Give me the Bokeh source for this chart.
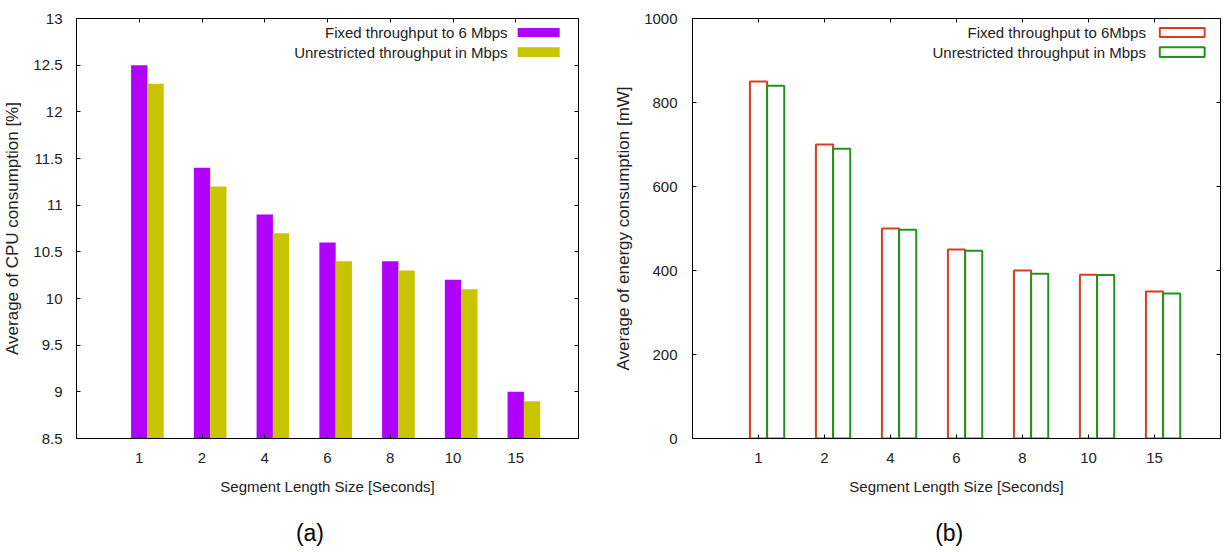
from bokeh.plotting import figure
from bokeh.layouts import row, column
from bokeh.models import (FixedTicker, LinearAxis, Label, Range1d,
                          ColumnDataSource, BoxAnnotation)
from bokeh.core.properties import value
from bokeh.embed import file_html
from bokeh.resources import INLINE

# ---------------- data ----------------
segments = ["1", "2", "4", "6", "8", "10", "15"]
cpu_fixed = [12.5, 11.4, 10.9, 10.6, 10.4, 10.2, 9.0]
cpu_unrestricted = [12.3, 11.2, 10.7, 10.4, 10.3, 10.1, 8.9]
energy_fixed = [850, 700, 500, 450, 400, 390, 350]
energy_unrestricted = [840, 690, 497, 447, 392, 389, 345]
cpu_ticks = [8.5, 9, 9.5, 10, 10.5, 11, 11.5, 12, 12.5, 13]
energy_ticks = [0, 200, 400, 600, 800, 1000]
labels_a = ["Fixed throughput to 6 Mbps", "Unrestricted throughput in Mbps"]
labels_b = ["Fixed throughput to 6Mbps", "Unrestricted throughput in Mbps"]
captions = ["(a)", "(b)"]

FONT = "Liberation Sans"
TXT = "#222222"
BAR_W = 0.26
MAIN_H = 510
CAP_H = 42


def panel(frame_w, mb_left, mb_right, ylabel, yticks, v1, v2, colors, hollow,
          labels, sw_x, ylabel_standoff, ytick_standoff):
    idx = list(range(len(segments)))
    src = ColumnDataSource(dict(
        x1=idx, x2=[i + BAR_W for i in idx], v1=v1, v2=v2))
    ymin, ymax = yticks[0], yticks[-1]
    xmin, xmax = -1, len(segments)
    p = figure(width=mb_left + frame_w + mb_right, height=MAIN_H,
               output_backend="svg", toolbar_location=None,
               x_range=Range1d(xmin, xmax),
               y_range=Range1d(ymin, ymax),
               min_border_left=mb_left, min_border_right=mb_right,
               min_border_top=18, min_border_bottom=72)
    p.xgrid.visible = False
    p.ygrid.visible = False
    p.outline_line_color = None
    p.background_fill_color = "white"
    p.border_fill_color = "white"

    if hollow:
        p.vbar(x="x1", top="v1", bottom=ymin, width=BAR_W, source=src,
               fill_color=None, line_color=colors[0], line_width=2)
        p.vbar(x="x2", top="v2", bottom=ymin, width=BAR_W, source=src,
               fill_color=None, line_color=colors[1], line_width=2)
    else:
        p.vbar(x="x1", top="v1", bottom=ymin, width=BAR_W, source=src,
               fill_color=colors[0], line_color=None)
        p.vbar(x="x2", top="v2", bottom=ymin, width=BAR_W, source=src,
               fill_color=colors[1], line_color=None)

    xt = FixedTicker(ticks=idx)
    xover = {i: s for i, s in zip(idx, segments)}
    yover = {t: f"{t:g}" for t in yticks}

    def style(ax):
        ax.axis_line_color = "black"
        ax.axis_line_width = 1
        ax.major_tick_line_color = "black"
        ax.major_tick_in = 4
        ax.major_tick_out = 0
        ax.minor_tick_line_color = None
        ax.major_label_text_font = FONT
        ax.major_label_text_font_size = "15px"
        ax.major_label_text_color = TXT
        ax.axis_label_text_font = FONT
        ax.axis_label_text_font_size = "15px"
        ax.axis_label_text_font_style = "normal"
        ax.axis_label_text_color = TXT

    xa = p.xaxis[0]
    xa.ticker = xt
    xa.major_label_overrides = xover
    xa.axis_label = "Segment Length Size [Seconds]"
    style(xa)
    xa.major_label_standoff = 14
    xa.axis_label_standoff = 12

    ya = p.yaxis[0]
    ya.ticker = FixedTicker(ticks=yticks)
    ya.major_label_overrides = yover
    ya.axis_label = ylabel
    style(ya)
    ya.axis_label_text_font_size = "17px"
    ya.major_label_standoff = ytick_standoff
    ya.axis_label_standoff = ylabel_standoff

    top = LinearAxis(ticker=FixedTicker(ticks=idx))
    style(top)
    top.major_label_text_font_size = "0px"
    top.major_label_standoff = 0
    p.add_layout(top, "above")
    right = LinearAxis(ticker=FixedTicker(ticks=yticks))
    style(right)
    right.major_label_text_font_size = "0px"
    right.major_label_standoff = 0
    p.add_layout(right, "right")

    # legend: text right-aligned, swatch to its right (gnuplot style)
    span = ymax - ymin
    rows = [(0.0224, 0.0439), (0.0685, 0.0916)]
    for k, (lab, (f_top, f_bot)) in enumerate(zip(labels, rows)):
        p.add_layout(Label(x=5.87, y=ymax - 0.5 * (f_top + f_bot) * span,
                           text=lab, text_align="right",
                           text_baseline="middle", text_font=FONT,
                           text_font_size="15px", text_color=TXT))
        if hollow:
            box = BoxAnnotation(left=sw_x[0], right=sw_x[1],
                                top=ymax - f_top * span,
                                bottom=ymax - f_bot * span,
                                fill_alpha=0, line_color=colors[k],
                                line_width=2, line_alpha=1)
        else:
            box = BoxAnnotation(left=sw_x[0], right=sw_x[1],
                                top=ymax - f_top * span,
                                bottom=ymax - f_bot * span,
                                fill_color=colors[k], fill_alpha=1,
                                line_color=None)
        p.add_layout(box)
    return p


def caption_fig(width, text, xfrac):
    c = figure(width=width, height=CAP_H, output_backend="svg",
               toolbar_location=None, x_range=Range1d(0, 1),
               y_range=Range1d(0, 1), x_axis_location=None,
               y_axis_location=None, min_border=0)
    c.xgrid.visible = False
    c.ygrid.visible = False
    c.outline_line_color = None
    c.border_fill_color = "white"
    c.background_fill_color = "white"
    c.text(x=[xfrac], y=[0.46], text=[text], text_align="center",
           text_baseline="middle", text_font=value(FONT),
           text_font_size="23px", text_color="black")
    return c


pa = panel(502, 76, 30, "Average of CPU consumption [%]", cpu_ticks,
           cpu_fixed, cpu_unrestricted, ["#b000ff", "#c8c400"], False,
           labels_a, (6.03, 6.70), 8, 14)
pb = panel(528, 84, 3, "Average of energy consumption [mW]", energy_ticks,
           energy_fixed, energy_unrestricted, ["#dc3c1e", "#1e961e"], True,
           labels_b, (6.08, 6.76), 8, 15)
ca = caption_fig(pa.width, captions[0], 0.509)
cb = caption_fig(pb.width, captions[1], 0.554)

layout = column(row(pa, pb), row(ca, cb))
open("out.html", "w").write(file_html(layout, INLINE))
